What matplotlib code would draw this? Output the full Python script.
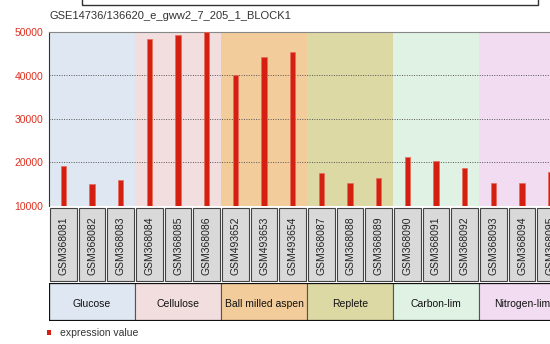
import numpy as np
import matplotlib.pyplot as plt
from matplotlib.patches import Rectangle

plt.rcParams['font.family'] = ['Liberation Sans', 'DejaVu Sans']

title = 'GSE14736/136620_e_gww2_7_205_1_BLOCK1'
samples = ['GSM368081', 'GSM368082', 'GSM368083',
           'GSM368084', 'GSM368085', 'GSM368086',
           'GSM493652', 'GSM493653', 'GSM493654',
           'GSM368087', 'GSM368088', 'GSM368089',
           'GSM368090', 'GSM368091', 'GSM368092',
           'GSM368093', 'GSM368094', 'GSM368095']
values = [19300, 15000, 15900,
          48400, 49200, 50000,
          40100, 44300, 45300,
          17600, 15400, 16400,
          21300, 20300, 18800,
          15200, 15400, 17900]
groups = ['Glucose', 'Cellulose', 'Ball milled aspen', 'Replete', 'Carbon-lim', 'Nitrogen-lim']
group_sizes = [3, 3, 3, 3, 3, 3]
group_colors = ['#dfe8f2', '#f2dede', '#f2cc9a', '#dcd9a4', '#dff2e4', '#f2dcf2']
yticks = [10000, 20000, 30000, 40000, 50000]

W, H = 550, 344
fig = plt.figure(figsize=(W / 100, H / 100), dpi=100)

def box(l, t, r, b):
    return [l / W, 1 - b / H, (r - l) / W, (b - t) / H]

n = len(samples)
x = np.arange(n) + 0.5

# main bar area
ax = fig.add_axes(box(49, 32, 565, 206))
edges = np.concatenate([[0], np.cumsum(group_sizes)])
for g in range(len(groups)):
    ax.axvspan(edges[g], edges[g + 1], color=group_colors[g], lw=0, zorder=0)
ax.bar(x, np.array(values) - yticks[0], bottom=yticks[0], width=0.18,
       color='#d42010', edgecolor='#e86a5a', lw=0.5, zorder=3)
ax.set_xlim(0, n)
ax.set_ylim(yticks[0], yticks[-1])
ax.set_yticks(yticks)
ax.set_yticklabels([str(v) for v in yticks], color='#e03020', fontsize=7.5)
ax.tick_params(axis='y', length=0, pad=4)
ax.set_xticks([])
for v in yticks[1:]:
    ax.axhline(v, color='#555555', lw=0.7, ls=(0, (1, 1.5)), zorder=1)
for s in ['right', 'bottom']:
    ax.spines[s].set_visible(False)
ax.spines['top'].set_color('#888888')
ax.spines['left'].set_color('#333333')

# sample name boxes
ax2 = fig.add_axes(box(49, 206, 565, 283))
ax2.set_xlim(0, n)
ax2.set_ylim(0, 1)
ax2.axis('off')
for i, s in enumerate(samples):
    ax2.add_patch(Rectangle((i + 0.04, 0.02), 0.92, 0.96, facecolor='#d9d9d9',
                            edgecolor='#444444', lw=0.8))
    ax2.text(i + 0.5, 0.48, s, rotation=90, ha='center', va='center',
             fontsize=7.5, color='#222222')

# group name boxes
ax3 = fig.add_axes(box(49, 283, 565, 321))
ax3.set_xlim(0, n)
ax3.set_ylim(0, 1)
ax3.axis('off')
for g in range(len(groups)):
    ax3.add_patch(Rectangle((edges[g], 0), group_sizes[g], 1,
                            facecolor=group_colors[g], edgecolor='#555555', lw=0.8))
    ax3.text((edges[g] + edges[g + 1]) / 2, 0.45, groups[g], ha='center', va='center',
             fontsize=7.5, color='#111111')
ax3.add_patch(Rectangle((0, 0), n, 1, fill=False, edgecolor='#111111', lw=1.6))

# title, top frame and legend
fig.text(49 / W, 1 - 16 / H, title, fontsize=8, color='#333333', va='center')
fig.add_artist(Rectangle((82 / W, 1 - 5 / H), (538 - 82) / W, 10 / H,
                         transform=fig.transFigure, fill=False,
                         edgecolor='#333333', lw=1))
fig.add_artist(Rectangle((47 / W, 1 - 335 / H), 4 / W, 5 / H,
                         transform=fig.transFigure, color='#d42010', lw=0))
fig.text(60 / W, 1 - 333 / H, 'expression value', fontsize=7.5, color='#333333',
         va='center')

fig.savefig('out.png', dpi=100)
